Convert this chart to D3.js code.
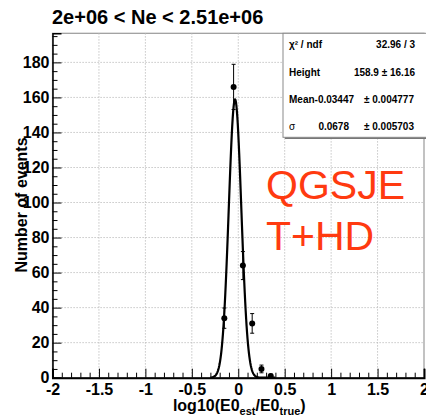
<!DOCTYPE html>
<html>
<head>
<meta charset="utf-8">
<script src="https://cdn.jsdelivr.net/npm/d3@7"></script>
<style>
  html, body { margin: 0; padding: 0; background: #fff; }
  svg { display: block; }
  text { font-family: "Liberation Sans", Arial, Helvetica, sans-serif; }
</style>
</head>
<body>
<svg id="chart" width="426" height="417"></svg>
<script>
// Histogram bins (bin centres, counts and Poisson errors)
const binCenters = [-0.15, -0.05, 0.05, 0.15, 0.25, 0.35];
const counts     = [34, 166, 64, 31, 5, 1];
const errors     = [5.8, 12.9, 8.0, 5.6, 2.2, 1.0];

// Gaussian fit results
const fitHeight = 158.9;
const fitMean   = -0.03447;
const fitSigma  = 0.0678;
const fitRange  = [-0.3, 0.4];

// Axis ticks
const xTicks = [-2, -1.5, -1, -0.5, 0, 0.5, 1, 1.5, 2];
const xTickLabels = ["-2", "-1.5", "-1", "-0.5", "0", "0.5", "1", "1.5", "2"];
const yTicks = [0, 20, 40, 60, 80, 100, 120, 140, 160, 180];
const yTickLabels = ["0", "20", "40", "60", "80", "100", "120", "140", "160", "180"];

// Stats box rows
const statLabels = ["\u03c7\u00b2 / ndf", "Height", "Mean-0.03447", "\u03c3"];
const statValues = ["32.96 / 3", "158.9 \u00b1 16.16", "", "0.0678"];
const statErrors = ["", "", "\u00b1 0.004777", "\u00b1 0.005703"];

const title = "2e+06 < Ne < 2.51e+06";
const modelLines = ["QGSJE", "T+HD"];

const svg = d3.select("#chart");
const plotL = 52.5, plotR = 424, plotT = 33.3, plotB = 377.7;

const x = d3.scaleLinear().domain([-2, 2]).range([plotL, plotR]);
const y = d3.scaleLinear().domain([0, 196.6]).range([plotB, plotT]);

// Frame
svg.append("rect")
  .attr("x", plotL).attr("y", plotT)
  .attr("width", plotR - plotL).attr("height", plotB - plotT)
  .attr("fill", "#fff").attr("stroke", "#9a9a9a").attr("stroke-width", 1.2);

// Dotted grid at the major ticks
const grid = svg.append("g").attr("stroke", "#b8b8b8").attr("stroke-width", 1)
  .attr("stroke-dasharray", "1.2,1.8");
grid.selectAll("line.v").data(xTicks.slice(1, -1)).join("line")
  .attr("x1", d => x(d)).attr("x2", d => x(d))
  .attr("y1", plotT).attr("y2", plotB);
grid.selectAll("line.h").data(yTicks.slice(1)).join("line")
  .attr("x1", plotL).attr("x2", plotR)
  .attr("y1", d => y(d)).attr("y2", d => y(d));

// Minor ticks
const xMinor = d3.range(-20, 21).map(i => i / 10).filter(v => Math.abs(v * 2 - Math.round(v * 2)) > 1e-6);
const yMinor = d3.range(0, 200, 5).filter(v => v % 20 !== 0 && v <= 196);

svg.append("g").attr("transform", `translate(0,${plotB})`)
  .call(d3.axisBottom(x).tickValues(xMinor).tickSize(-5).tickFormat(""))
  .call(g => g.select(".domain").remove())
  .selectAll("line").attr("stroke", "#000");

svg.append("g").attr("transform", `translate(${plotL},0)`)
  .call(d3.axisLeft(y).tickValues(yMinor).tickSize(-5).tickFormat(""))
  .call(g => g.select(".domain").remove())
  .selectAll("line").attr("stroke", "#000");

// Major axes
const xAxis = svg.append("g").attr("transform", `translate(0,${plotB})`)
  .call(d3.axisBottom(x).tickValues(xTicks).tickSize(-9).tickPadding(6)
    .tickFormat((d, i) => xTickLabels[i]));
xAxis.select(".domain").attr("stroke", "#000").attr("stroke-width", 2);
xAxis.selectAll("line").attr("stroke", "#000");
xAxis.selectAll("text").attr("font-size", 16).attr("font-weight", "bold").attr("fill", "#000");

const yAxis = svg.append("g").attr("transform", `translate(${plotL},0)`)
  .call(d3.axisLeft(y).tickValues(yTicks).tickSize(-9).tickPadding(3)
    .tickFormat((d, i) => yTickLabels[i]));
yAxis.select(".domain").attr("stroke", "#000").attr("stroke-width", 1.5);
yAxis.selectAll("line").attr("stroke", "#000");
yAxis.selectAll("text").attr("font-size", 16).attr("font-weight", "bold").attr("fill", "#000");

// Axis titles
const xt = svg.append("text")
  .attr("x", x(0) + 1).attr("y", 411)
  .attr("text-anchor", "middle")
  .attr("font-size", 16).attr("font-weight", "bold");
xt.append("tspan").text("log10(E0");
xt.append("tspan").attr("font-size", 11).attr("dy", 4).text("est");
xt.append("tspan").attr("dy", -4).text("/E0");
xt.append("tspan").attr("font-size", 11).attr("dy", 4).text("true");
xt.append("tspan").attr("dy", -4).text(")");

svg.append("text")
  .attr("transform", "translate(27,205) rotate(-90)")
  .attr("text-anchor", "middle")
  .attr("font-size", 16).attr("font-weight", "bold")
  .text("Number of events");

// Title
svg.append("text")
  .attr("x", 52).attr("y", 24)
  .attr("font-size", 20).attr("font-weight", "bold")
  .text(title);

// Gaussian fit curve
const fitPts = d3.range(0, 141).map(i => {
  const xv = fitRange[0] + i * (fitRange[1] - fitRange[0]) / 140;
  return [xv, fitHeight * Math.exp(-0.5 * Math.pow((xv - fitMean) / fitSigma, 2))];
});
svg.append("path")
  .datum(fitPts)
  .attr("fill", "none").attr("stroke", "#000").attr("stroke-width", 2.2)
  .attr("stroke-linejoin", "round")
  .attr("d", d3.line().x(d => x(d[0])).y(d => y(d[1])));

// Data points with error bars
const pts = binCenters.map((c, i) => ({ c, v: counts[i], e: errors[i] }));
const eb = svg.append("g").attr("stroke", "#000").attr("stroke-width", 1);
eb.selectAll("line.bar").data(pts).join("line")
  .attr("x1", d => x(d.c)).attr("x2", d => x(d.c))
  .attr("y1", d => y(Math.max(0, d.v - d.e))).attr("y2", d => y(d.v + d.e));
eb.selectAll("line.capt").data(pts).join("line")
  .attr("x1", d => x(d.c) - 2).attr("x2", d => x(d.c) + 2)
  .attr("y1", d => y(d.v + d.e)).attr("y2", d => y(d.v + d.e));
eb.selectAll("line.capb").data(pts.filter(d => d.v - d.e > 0)).join("line")
  .attr("x1", d => x(d.c) - 2).attr("x2", d => x(d.c) + 2)
  .attr("y1", d => y(d.v - d.e)).attr("y2", d => y(d.v - d.e));
svg.append("g").selectAll("circle").data(pts).join("circle")
  .attr("cx", d => x(d.c)).attr("cy", d => y(d.v)).attr("r", 3)
  .attr("fill", "#000");

// Fit statistics box
const sb = svg.append("g");
sb.append("rect").attr("x", 285).attr("y", 35).attr("width", 150).attr("height", 104)
  .attr("fill", "#777");
sb.append("rect").attr("x", 283).attr("y", 33.3).attr("width", 150).attr("height", 104)
  .attr("fill", "#fff").attr("stroke", "#8a8a8a").attr("stroke-width", 1);
const rowY = [48, 76, 103, 130];
statLabels.forEach((lab, i) => {
  sb.append("text").attr("x", 289).attr("y", rowY[i])
    .attr("font-size", 10).attr("font-weight", i === 3 ? "normal" : "bold")
    .text(lab);
});
statValues.forEach((val, i) => {
  if (!val) return;
  sb.append("text").attr("x", statErrors[i] ? 349 : 415).attr("y", rowY[i])
    .attr("text-anchor", "end")
    .attr("font-size", 10).attr("font-weight", "bold")
    .text(val);
});
statErrors.forEach((val, i) => {
  if (!val) return;
  sb.append("text").attr("x", 414).attr("y", rowY[i])
    .attr("text-anchor", "end")
    .attr("font-size", 10).attr("font-weight", "bold")
    .text(val);
});

// Model annotation
modelLines.forEach((t, i) => {
  svg.append("text").attr("x", 266).attr("y", 199 + i * 51)
    .attr("font-size", 41).attr("fill", "#ff3a10")
    .text(t);
});
</script>
</body>
</html>
